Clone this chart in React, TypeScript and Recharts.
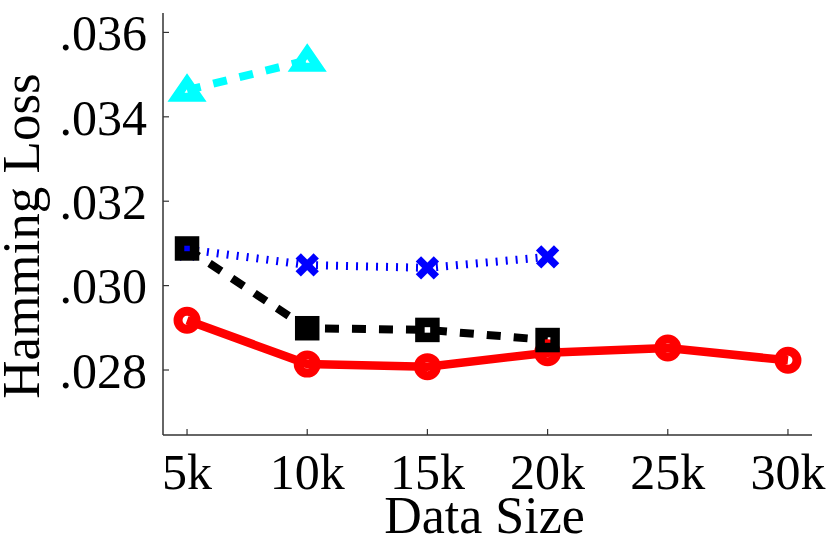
import React from 'react';
import { LineChart, Line, XAxis, YAxis, Label } from 'recharts';

const sizes = [5, 10, 15, 20, 25, 30];
const xTicks = [5, 10, 15, 20, 25, 30];
const yTicks = [0.028, 0.03, 0.032, 0.034, 0.036];

const redValues = [0.02918, 0.02814, 0.02808, 0.02841, 0.02852, 0.02823];
const blueValues = [0.03086, 0.03049, 0.03042, 0.03068];
const blackValues = [0.03088, 0.02899, 0.02895, 0.02871];
const cyanValues = [0.03463, 0.03534];

const toData = (vals: number[]) => vals.map((v, i) => ({ size: sizes[i], v }));
const redData = toData(redValues);
const blueData = toData(blueValues);
const blackData = toData(blackValues);
const cyanData = toData(cyanValues);

const FONT = "'Liberation Serif', 'DejaVu Serif', 'Noto Serif', Times, serif";

const CircleDot = (p: any) => (
  <circle key={`c${p.index}`} cx={p.cx} cy={p.cy} r={9} fill="none" stroke="#ff0000" strokeWidth={9} />
);
const SquareDot = (p: any) => (
  <rect key={`s${p.index}`} x={p.cx - 7.5} y={p.cy - 7.5} width={15} height={15} fill="none" stroke="#000000" strokeWidth={9.5} />
);
const TriDot = (p: any) => (
  <polygon
    key={`t${p.index}`}
    points={`${p.cx},${p.cy - 9} ${p.cx - 11},${p.cy + 7} ${p.cx + 11},${p.cy + 7}`}
    fill="none"
    stroke="#00ffff"
    strokeWidth={9}
    strokeLinejoin="miter"
  />
);
const XDot = (p: any) => (
  <g key={`x${p.index}`}>
    <line x1={p.cx - 9} y1={p.cy - 9} x2={p.cx + 9} y2={p.cy + 9} stroke="#0000ff" strokeWidth={7.5} />
    <line x1={p.cx - 9} y1={p.cy + 9} x2={p.cx + 9} y2={p.cy - 9} stroke="#0000ff" strokeWidth={7.5} />
  </g>
);

const fmtY = (v: number) => v.toFixed(3).replace(/^0/, '');
const fmtX = (v: number) => `${v}k`;

const axisLine = { stroke: '#333333', strokeWidth: 1.5 };
const tickLine = { stroke: '#333333', strokeWidth: 1.2 };
const tickStyle = { fill: '#000', fontSize: 50, fontFamily: FONT, style: { fontFamily: FONT } };

export default function App() {
  return (
    <div style={{ position: 'absolute', left: 0, top: 0, fontFamily: FONT }}>
      <LineChart width={830} height={542} margin={{ top: 13, right: 18, left: 0, bottom: 0 }} style={{ fontFamily: FONT }}>
        <XAxis
          xAxisId="b"
          dataKey="size"
          type="number"
          domain={[4, 31]}
          ticks={xTicks}
          tickFormatter={fmtX}
          allowDataOverflow
          orientation="bottom"
          height={107}
          tickSize={-6}
          tickMargin={24}
          axisLine={axisLine}
          tickLine={tickLine}
          tick={tickStyle}
          interval={0}
        >
          <Label
            content={(props: any) => {
              const vb = props.viewBox;
              return (
                <text x={vb.x + vb.width / 2 - 3} y={vb.y + 98} textAnchor="middle" fontSize={52} fontFamily={FONT} style={{ fontFamily: FONT }} fill="#000">
                  Data Size
                </text>
              );
            }}
          />
        </XAxis>
        <XAxis
          xAxisId="t"
          dataKey="size"
          type="number"
          domain={[4, 31]}
          ticks={xTicks}
          allowDataOverflow
          orientation="top"
          height={0}
          tickSize={-6}
          tick={false}
          axisLine={axisLine}
          tickLine={tickLine}
          interval={0}
        />
        <YAxis
          yAxisId="l"
          type="number"
          domain={[0.02646, 0.03646]}
          ticks={yTicks}
          tickFormatter={fmtY}
          allowDataOverflow
          orientation="left"
          width={163}
          tickSize={-6}
          tickMargin={22}
          axisLine={axisLine}
          tickLine={tickLine}
          tick={tickStyle}
          interval={0}
        >
          <Label
            content={(props: any) => {
              const vb = props.viewBox;
              const cx = 39;
              const cy = vb.y + vb.height / 2 + 12;
              return (
                <text x={cx} y={cy} transform={`rotate(-90 ${cx} ${cy})`} textAnchor="middle" fontSize={53} fontFamily={FONT} style={{ fontFamily: FONT }} fill="#000">
                  Hamming Loss
                </text>
              );
            }}
          />
        </YAxis>
        <YAxis
          yAxisId="r"
          type="number"
          domain={[0.02646, 0.03646]}
          ticks={yTicks}
          allowDataOverflow
          orientation="right"
          width={0}
          tickSize={-6}
          tick={false}
          axisLine={axisLine}
          tickLine={tickLine}
          interval={0}
        />
        <Line
          xAxisId="b"
          yAxisId="l"
          data={redData}
          dataKey="v"
          stroke="#ff0000"
          strokeWidth={8.5}
          dot={CircleDot}
          activeDot={false}
          isAnimationActive={false}
        />
        <Line
          xAxisId="b"
          yAxisId="l"
          data={blueData}
          dataKey="v"
          stroke="#0000ff"
          strokeWidth={8}
          strokeDasharray="2 8"
          dot={XDot}
          activeDot={false}
          isAnimationActive={false}
        />
        <Line
          xAxisId="b"
          yAxisId="l"
          data={blackData}
          dataKey="v"
          stroke="#000000"
          strokeWidth={8}
          strokeDasharray="14 13"
          dot={SquareDot}
          activeDot={false}
          isAnimationActive={false}
        />
        <Line
          xAxisId="b"
          yAxisId="l"
          data={cyanData}
          dataKey="v"
          stroke="#00ffff"
          strokeWidth={8}
          strokeDasharray="14 13"
          dot={TriDot}
          activeDot={false}
          isAnimationActive={false}
        />
      </LineChart>
    </div>
  );
}
